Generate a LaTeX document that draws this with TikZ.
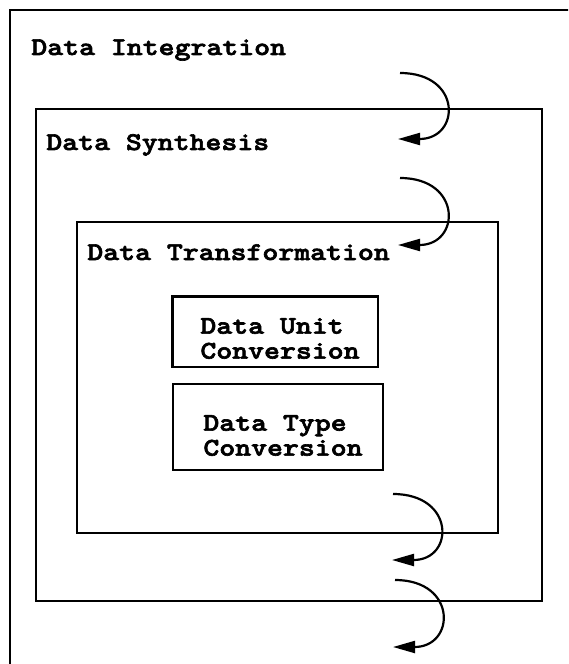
\documentclass[tikz,border=0pt]{standalone}
\usepackage{fontspec}
\setmonofont{lmmonolt10-bold.otf}[FakeStretch=1.19, FakeBold=2.5]
\usetikzlibrary{arrows.meta}

\begin{document}
\begin{tikzpicture}[
  every node/.style={font=\fontsize{14.5}{14.2}\selectfont\ttfamily},
  layer/.style={rectangle, draw=black, line width=1.25pt, inner sep=0pt,
                anchor=north west},
  step box/.style={rectangle, draw=black, line width=1.25pt, inner sep=0pt},
  step text/.style={align=left, inner sep=0pt},
  title/.style={anchor=base west, inner sep=0pt},
  flow/.style={-{Triangle[length=0.44cm, width=0.24cm]}, line width=1.25pt}
]
  \useasboundingbox (0,0) rectangle (11.36,-13.28);
  \clip (0,0) rectangle (11.36,-13.28);

  % Nested layers (outer one runs off the page)
  \node[layer, minimum width=11.8cm, minimum height=13.8cm] (integ) at (0.18,-0.18) {};
  \node[layer, minimum width=10.12cm, minimum height=9.84cm] (synth) at (0.70,-2.16) {};
  \node[layer, minimum width=8.42cm, minimum height=6.22cm] (transf) at (1.52,-4.42) {};

  % Layer titles
  \node[title] (integT)  at (0.62,-1.10) {Data Integration};
  \node[title] (synthT)  at (0.92,-3.00) {Data Synthesis};
  \node[title] (transfT) at (1.74,-5.20) {Data Transformation};

  % Conversion steps
  \node[step box, minimum width=4.11cm, minimum height=1.41cm] (unitconv) at (5.505,-6.635) {};
  \node[step box, minimum width=4.20cm, minimum height=1.72cm] (typeconv) at (5.56,-8.54) {};
  \node[step text] (unitconvT) at (5.60,-6.77) {Data Unit\\Conversion};
  \node[step text] (typeconvT) at (5.66,-8.71) {Data Type\\Conversion};

  % Flow in and out of the layers
  \coordinate (in1a)  at (8.00,-1.46);  \coordinate (in1b)  at (7.96,-2.78);
  \coordinate (in2a)  at (8.00,-3.56);  \coordinate (in2b)  at (7.96,-4.90);
  \coordinate (out1a) at (7.86,-9.88);  \coordinate (out1b) at (7.84,-11.20);
  \coordinate (out2a) at (7.90,-11.60); \coordinate (out2b) at (7.86,-12.94);

  \draw[flow] (in1a)  .. controls +(1.25,0) and +(1.25,0) .. (in1b);
  \draw[flow] (in2a)  .. controls +(1.25,0) and +(1.25,0) .. (in2b);
  \draw[flow] (out1a) .. controls +(1.25,0) and +(1.25,0) .. (out1b);
  \draw[flow] (out2a) .. controls +(1.25,0) and +(1.25,0) .. (out2b);
\end{tikzpicture}
\end{document}
